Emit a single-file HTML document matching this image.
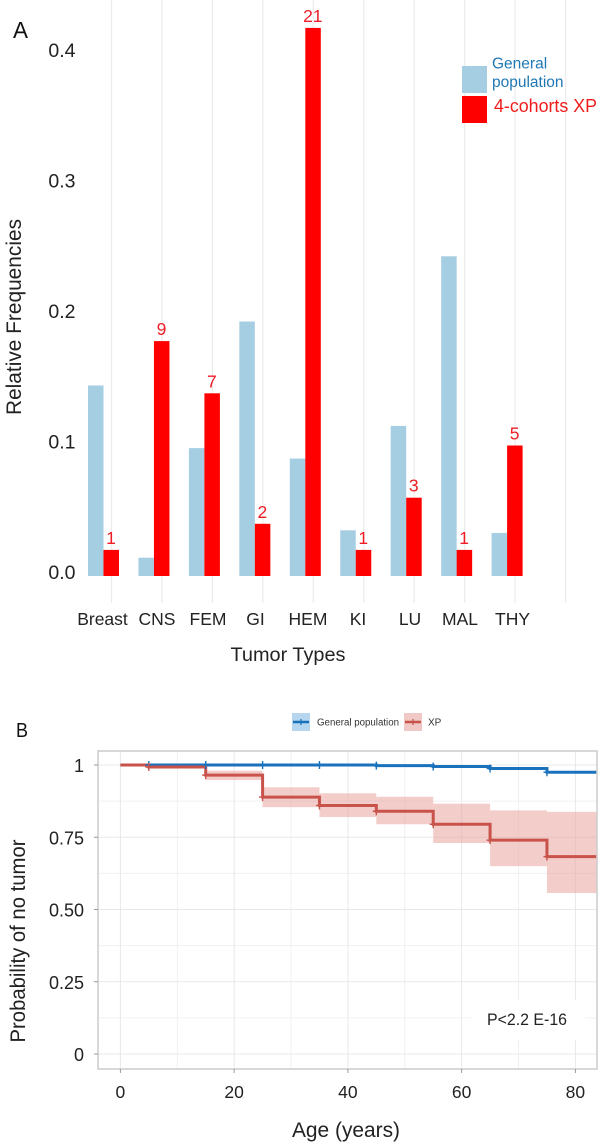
<!DOCTYPE html>
<html>
<head>
<meta charset="utf-8">
<style>
html,body{margin:0;padding:0;background:#fff;}
svg{display:block;font-family:"Liberation Sans",sans-serif;}
</style>
</head>
<body>
<svg id="fig" width="602" height="1143" viewBox="0 0 602 1143" xmlns="http://www.w3.org/2000/svg">
  <rect width="602" height="1143" fill="#fff"/>
  <g id="a-grid"></g>
  <g id="a-bars"></g>
  <g id="a-text"></g>
  <g font-size="17.5" fill="#222" text-anchor="middle">
    <text x="102.5" y="625">Breast</text>
    <text x="157" y="625">CNS</text>
    <text x="208" y="625">FEM</text>
    <text x="255.5" y="625">GI</text>
    <text x="308" y="625">HEM</text>
    <text x="358" y="625">KI</text>
    <text x="410" y="625">LU</text>
    <text x="460" y="625">MAL</text>
    <text x="512.5" y="625">THY</text>
  </g>
  <text x="13" y="38" font-size="23" fill="#111" textLength="15" lengthAdjust="spacingAndGlyphs">A</text>
  <text transform="translate(21,317) rotate(-90)" text-anchor="middle" font-size="21" fill="#222" textLength="196" lengthAdjust="spacingAndGlyphs">Relative Frequencies</text>
  <text x="288" y="661" text-anchor="middle" font-size="19.5" fill="#222" textLength="115" lengthAdjust="spacingAndGlyphs">Tumor Types</text>
  <g>
    <rect x="462" y="66" width="25" height="27" fill="#a6cee3"/>
    <rect x="462" y="96" width="25" height="27" fill="#ff0000"/>
    <text x="492" y="68.5" font-size="15.5" fill="#1f78b4">General</text>
    <text x="492" y="87" font-size="15.5" fill="#1f78b4">population</text>
    <text x="494" y="112" font-size="18" fill="#f01c1c" textLength="103" lengthAdjust="spacingAndGlyphs">4-cohorts XP</text>
  </g>

  <text x="16" y="737" font-size="20" fill="#111" textLength="12" lengthAdjust="spacingAndGlyphs">B</text>
  <g>
    <rect x="292" y="713" width="18" height="18" fill="#b5d6ee"/>
    <line x1="293" x2="309" y1="722" y2="722" stroke="#1a72bd" stroke-width="2.5"/>
    <line x1="301" x2="301" y1="719" y2="725" stroke="#1a72bd" stroke-width="1.2"/>
    <text x="317" y="725.5" font-size="10" fill="#333" textLength="82" lengthAdjust="spacingAndGlyphs">General population</text>
    <rect x="404" y="713" width="18" height="18" fill="#f0c9c6"/>
    <line x1="405" x2="421" y1="722" y2="722" stroke="#c9534a" stroke-width="2.5"/>
    <line x1="413" x2="413" y1="719" y2="725" stroke="#c9534a" stroke-width="1.2"/>
    <text x="428" y="725.5" font-size="10" fill="#333">XP</text>
  </g>
  <g id="b-grid"></g>
  <g id="b-ci"></g>
  <g id="b-lines"></g>
  <g id="b-axes"></g>
  <rect x="471" y="1000" width="114" height="40" fill="#fff"/>
  <text x="527" y="1025" text-anchor="middle" font-size="16.5" fill="#222" textLength="80" lengthAdjust="spacingAndGlyphs">P&lt;2.2 E-16</text>
  <text transform="translate(25,941) rotate(-90)" text-anchor="middle" font-size="21" fill="#222" textLength="203" lengthAdjust="spacingAndGlyphs">Probability of no tumor</text>
  <text x="346" y="1137" text-anchor="middle" font-size="21" fill="#222" textLength="108" lengthAdjust="spacingAndGlyphs">Age (years)</text>
</svg>
<script>
// Panel A data
const categories = ["Breast","CNS","FEM","GI","HEM","KI","LU","MAL","THY"];
const generalFreq = [0.146,0.014,0.098,0.195,0.09,0.035,0.115,0.245,0.033];
const xpFreq = [0.02,0.18,0.14,0.04,0.42,0.02,0.06,0.02,0.1];
const xpCounts = [1,9,7,2,21,1,3,1,5];
const freqTicks = [0,0.1,0.2,0.3,0.4];

// Panel B data
const ageBreaks = [0,5,15,25,35,45,55,65,75];
const ageEnd = 84;
const generalSurv = [1,1,1,1,1,0.998,0.995,0.988,0.975];
const xpSurv = [1,0.993,0.965,0.889,0.86,0.84,0.795,0.74,0.683];
const xpUpper = [1,0.998,0.98,0.923,0.902,0.89,0.866,0.843,0.838];
const xpLower = [1,0.99,0.948,0.854,0.82,0.795,0.73,0.65,0.557];
const ageTicks = [0,20,40,60,80];
const ageMinor = [10,30,50,70];
const survTicks = [0,0.25,0.5,0.75,1];
const survTickLabels = ["0","0.25","0.50","0.75","1"];
const survMinor = [0.125,0.375,0.625,0.875];

const NS = "http://www.w3.org/2000/svg";
function mk(parent, tag, attrs, txt){
  const e = document.createElementNS(NS, tag);
  for (const k in attrs) e.setAttribute(k, attrs[k]);
  if (txt !== undefined) e.textContent = txt;
  document.getElementById(parent).appendChild(e);
  return e;
}

// Panel A axes
const xA = i => 111.5 + 50.45 * i;
const yA = v => 576 - 1305 * v;

for (let i = 0; i <= categories.length; i++) {
  const g = mk("a-grid","line",{x1:xA(i),x2:xA(i),y1:0,y2:603,stroke:"#ececec","stroke-width":1.2});
  
  
}
categories.forEach((c,i) => {
  const b1 = mk("a-bars","rect",{x:xA(i)-23.5,y:yA(generalFreq[i]),width:15.5,height:yA(0)-yA(generalFreq[i]),fill:"#a6cee3"});
  
  
  const b2 = mk("a-bars","rect",{x:xA(i)-8,y:yA(xpFreq[i]),width:15.5,height:yA(0)-yA(xpFreq[i]),fill:"#ff0000"});
  
  
  const t = mk("a-text","text",{x:xA(i)-0.5,y:yA(xpFreq[i])-6,"text-anchor":"middle","font-size":17.5,fill:"#ee1c25"},xpCounts[i]);
  
  
});
freqTicks.forEach(v => {
  const t = mk("a-text","text",{x:75.5,y:yA(v)+3,"text-anchor":"end","font-size":19.5,fill:"#222"},v.toFixed(1));
  
  
});

// Panel B axes
const xB = a => 120.4 + 5.6875 * a;
const yB = s => 1054 - 289 * s;
const L = 98, R = 597, T = 751, B = 1069;

survMinor.forEach(s => {
  const g = mk("b-grid","line",{x1:L,x2:R,y1:yB(s),y2:yB(s),stroke:"#f0f0f0","stroke-width":1});
  
  
});
ageMinor.forEach(a => {
  const g = mk("b-grid","line",{x1:xB(a),x2:xB(a),y1:T,y2:B,stroke:"#f0f0f0","stroke-width":1});
  
  
});
survTicks.forEach(s => {
  const g = mk("b-grid","line",{x1:L,x2:R,y1:yB(s),y2:yB(s),stroke:"#e8e8e8","stroke-width":1});
  
  
});
ageTicks.forEach(a => {
  const g = mk("b-grid","line",{x1:xB(a),x2:xB(a),y1:T,y2:B,stroke:"#e8e8e8","stroke-width":1});
  
  
});

function stepPath(vals){
  let d = "M" + xB(ageBreaks[0]) + " " + yB(vals[0]);
  for (let i = 1; i < ageBreaks.length; i++) {
    d += "L" + xB(ageBreaks[i]) + " " + yB(vals[i-1]) + "L" + xB(ageBreaks[i]) + " " + yB(vals[i]);
  }
  return d + "L" + Math.min(xB(ageEnd), R) + " " + yB(vals[vals.length-1]);
}

ageBreaks.forEach((a,i) => {
  const end = i + 1 < ageBreaks.length ? ageBreaks[i+1] : ageEnd;
  if (xpUpper[i] === xpLower[i]) return;
  const r = mk("b-ci","rect",{x:xB(a),y:yB(xpUpper[i]),width:Math.min(xB(end),R)-xB(a),height:yB(xpLower[i])-yB(xpUpper[i]),fill:"#e9a9a4","fill-opacity":0.58});
  
  
});

const gLine = mk("b-lines","path",{d:stepPath(generalSurv),fill:"none",stroke:"#1a72bd","stroke-width":3});


const pLine = mk("b-lines","path",{d:stepPath(xpSurv),fill:"none",stroke:"#c9534a","stroke-width":3});



ageBreaks.forEach((a,i) => {
  if (i === 0) return;
  const m1 = mk("b-lines","path",{d:"M"+(xB(a)-3.5)+" "+yB(generalSurv[i])+"h7M"+xB(a)+" "+(yB(generalSurv[i])-4)+"v8",fill:"none",stroke:"#1a72bd","stroke-width":1.4});
  
  
  const m2 = mk("b-lines","path",{d:"M"+(xB(a)-3.5)+" "+yB(xpSurv[i])+"h7M"+xB(a)+" "+(yB(xpSurv[i])-4)+"v8",fill:"none",stroke:"#c9534a","stroke-width":1.4});
  
  
});

const border = mk("b-axes","rect",{x:L,y:T,width:R-L,height:B-T,fill:"none",stroke:"#cfcfcf","stroke-width":1.6});



survTicks.forEach((s,i) => {
  const tk = mk("b-axes","line",{x1:94,x2:L,y1:yB(s),y2:yB(s),stroke:"#999","stroke-width":1});
  
  
  const t = mk("b-axes","text",{x:84,y:yB(s)+7,"text-anchor":"end","font-size":18,fill:"#222"},survTickLabels[i]);
  
  
});
ageTicks.forEach(a => {
  const tk = mk("b-axes","line",{x1:xB(a),x2:xB(a),y1:B,y2:B+4,stroke:"#999","stroke-width":1});
  
  
  const t = mk("b-axes","text",{x:xB(a),y:1098,"text-anchor":"middle","font-size":17.5,fill:"#222"},a);
  
  
});
</script>
</body>
</html>
